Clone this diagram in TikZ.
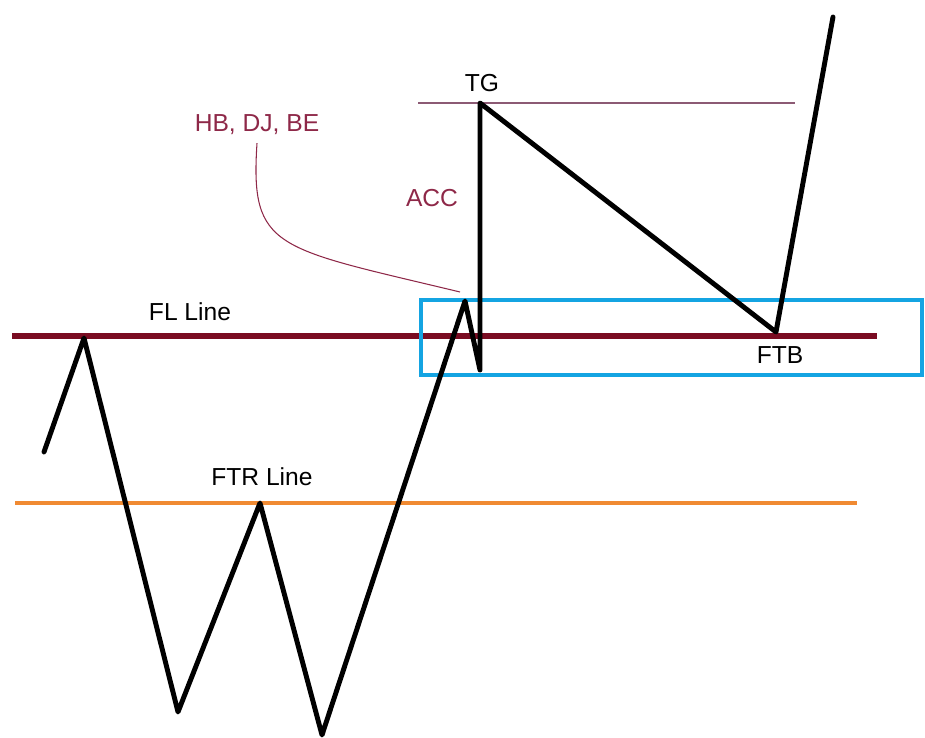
\documentclass[tikz,border=0pt]{standalone}
\usepackage{fontspec}
\setmainfont{Liberation Sans}
\usepackage{xcolor}
\definecolor{flred}{HTML}{7A0C22}
\definecolor{lblred}{HTML}{8E2848}
\definecolor{tgmauve}{HTML}{8C5A74}
\definecolor{ftrorange}{HTML}{F08A32}
\definecolor{zoneblue}{HTML}{14A4E2}

\begin{document}
\begin{tikzpicture}[
    lbl/.style={inner sep=1pt, font=\fontsize{14}{16}\selectfont},
    price/.style={line width=2.8pt, line join=round, line cap=round}
  ]
  \useasboundingbox (0,0) rectangle (18.5,-14.76);

  % Levels
  \draw[flred, line width=3pt] (0.24,-6.72) -- (17.54,-6.72);
  \draw[ftrorange, line width=2.2pt] (0.3,-10.06) -- (17.14,-10.06);
  \draw[tgmauve, line width=0.9pt] (8.36,-2.06) -- (15.9,-2.06);

  % Zone round the retest
  \draw[zoneblue, line width=2.2pt] (8.42,-6.0) rectangle (18.44,-7.5);

  % Pivots of the price swing
  \coordinate (p0) at (0.88,-9.04);
  \coordinate (p1) at (1.68,-6.76);
  \coordinate (p2) at (3.56,-14.24);
  \coordinate (p3) at (5.2,-10.06);
  \coordinate (p4) at (6.44,-14.7);
  \coordinate (p5) at (9.3,-6.02);
  \coordinate (p6) at (9.6,-7.4);
  \coordinate (tg) at (9.6,-2.06);
  \coordinate (ftb) at (15.52,-6.64);
  \coordinate (p9) at (16.66,-0.34);
  \draw[price] (p0) -- (p1) -- (p2) -- (p3) -- (p4) -- (p5) -- (p6)
    -- (tg) -- (ftb) -- (p9);

  % Labels
  \node[lbl, lblred] (hb) at (5.14,-2.5) {HB, DJ, BE};
  \node[lbl, lblred] (acc) at (8.64,-3.96) {ACC};
  \node[lbl] (tglbl) at (9.64,-1.66) {TG};
  \node[lbl] (fl) at (3.8,-6.24) {FL Line};
  \node[lbl] (ftr) at (5.24,-9.54) {FTR Line};
  \node[lbl] (ftblbl) at (15.6,-7.1) {FTB};

  % Pointer to the retest peak
  \coordinate (hbtip) at (9.2,-5.84);
  \draw[lblred, line width=0.6pt] ([yshift=-0.12cm]hb.south)
    .. controls (5.0,-5.0) and (5.5,-4.95) .. (hbtip);

\end{tikzpicture}
\end{document}
